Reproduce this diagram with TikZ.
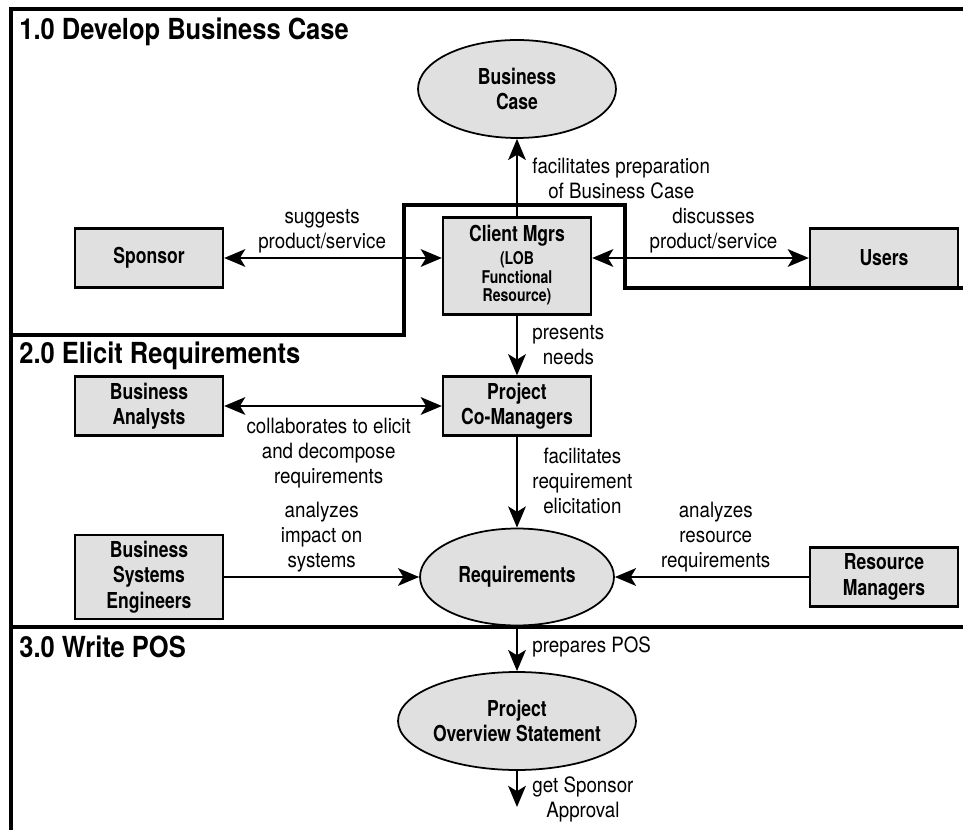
\documentclass[tikz,border=0pt]{standalone}
\usepackage{fontspec}
\setmainfont{TeX Gyre Heros}[FakeStretch=0.89]
\newfontfamily\boxfont{TeX Gyre Heros}[FakeStretch=0.8]
\newfontfamily\headfont{TeX Gyre Heros}[FakeStretch=0.88]
\usetikzlibrary{arrows.meta}
\usetikzlibrary{shapes.geometric}
\definecolor{boxgray}{RGB}{224,224,224}
\newcommand\subtxt{\fontsize{10}{10.3}\selectfont}

\begin{document}
\begin{tikzpicture}[x=0.02cm, y=-0.02cm, >={Stealth[length=12pt,width=10pt,inset=3pt]},
    box/.style={draw, line width=1.3pt, fill=boxgray, minimum width=2.96cm, minimum height=1.18cm,
        align=center, inner sep=1pt, font=\boxfont\bfseries\fontsize{12.5}{14.5}\selectfont},
    oval/.style={ellipse, draw, line width=1pt, fill=boxgray, align=center, inner sep=0pt,
        font=\boxfont\bfseries\fontsize{12.5}{14.5}\selectfont},
    lbl/.style={align=center, inner sep=2pt, font=\fontsize{12}{14.2}\selectfont},
    head/.style={anchor=west, inner sep=0pt, font=\headfont\bfseries\fontsize{16.5}{18}\selectfont},
    frame/.style={line width=1.8pt},
    flow/.style={line width=1.6pt}]
\useasboundingbox (0,0) rectangle (963,830);
\draw [frame] (963,9) -- (11,9) -- (11,830);
\draw [frame] (11,335) -- (404,335) -- (404,205) -- (625,205) -- (625,288) -- (963,288);
\draw [frame] (11,627) -- (963,627);

\node [head] at (19,32) {1.0 Develop Business Case};
\node [head] at (19,356) {2.0 Elicit Requirements};
\node [head] at (19,647) {3.0 Write POS};

\node [oval,name=buscase,minimum width=3.96cm,minimum height=1.96cm] at (517,89) {Business\\Case};
\node [box,name=client,minimum height=1.94cm] at (517,266) {Client Mgrs\\[-1pt]\subtxt\begin{tabular}[t]{@{}c@{}}(LOB\\Functional\\Resource)\end{tabular}};
\node [box,name=sponsor] at (149,258) {Sponsor};
\node [box,name=users] at (884,258) {Users};
\node [box,name=pcm] at (517,406) {Project\\Co-Managers};
\node [box,name=analysts] at (149,406) {Business\\Analysts};
\node [oval,name=req,minimum width=3.88cm,minimum height=1.94cm] at (517,577) {Requirements};
\node [box,name=bse,minimum height=1.68cm] at (149,577) {Business\\Systems\\Engineers};
\node [box,name=resmgr] at (884,577) {Resource\\Managers};
\node [oval,name=pos,minimum width=4.76cm,minimum height=1.96cm] at (517,721) {Project\\Overview Statement};
\coordinate (approval) at (517,807);

\draw [flow,<->] (sponsor.east) -- node [lbl,above,pos=0.45] {suggests\\product/service} (sponsor.east -| client.west);
\draw [flow,<->] (users.west -| client.east) -- node [lbl,above,pos=0.56] {discusses\\product/service} (users.west);
\draw [flow,->] (client) -- node [lbl,right=6pt,pos=0.49] {facilitates preparation\\of Business Case} (buscase);
\draw [flow,->] (client) -- node [lbl,right=6pt,pos=0.5] {presents\\needs} (pcm);
\draw [flow,<->] (analysts) -- node [lbl,below=4pt,pos=0.48] {collaborates to elicit\\and decompose\\requirements} (pcm);
\draw [flow,->] (pcm) -- node [lbl,right=6pt,pos=0.49] {facilitates\\requirement\\elicitation} (req);
\draw [flow,->] (bse) -- node [lbl,above,pos=0.5] {analyzes\\impact on\\systems} (req);
\draw [flow,->] (resmgr) -- node [lbl,above,pos=0.48] {analyzes\\resource\\requirements} (req);
\draw [flow,->] (req) -- node [lbl,right=6pt,pos=0.47] {prepares POS} (pos);
\draw [flow,->] (pos) -- node [lbl,right=6pt,pos=0.8] {get Sponsor\\Approval} (approval);
\end{tikzpicture}
\end{document}
